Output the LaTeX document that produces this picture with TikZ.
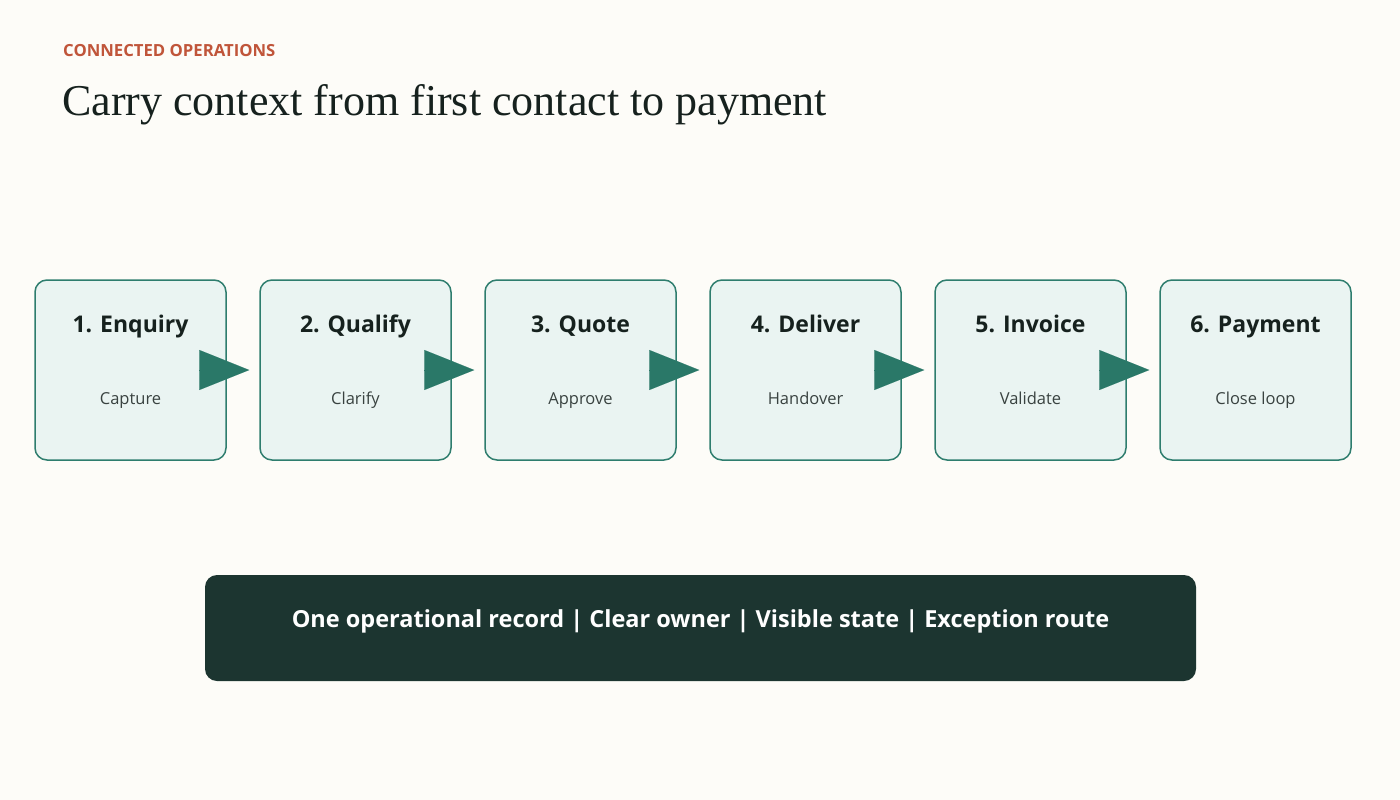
\documentclass[tikz,border=0pt]{standalone}
\usepackage{fontspec}
\setmainfont{Liberation Serif}
\setsansfont{Open Sans}
\usetikzlibrary{arrows.meta}
\definecolor{paper}{HTML}{FDFCF8}
\definecolor{kicker}{HTML}{C0553A}
\definecolor{ink}{HTML}{16211E}
\definecolor{stepfill}{HTML}{EAF4F2}
\definecolor{stepline}{HTML}{2E7D6E}
\definecolor{flowcol}{HTML}{2A7868}
\definecolor{bar}{HTML}{1C3530}
\tikzset{
  stagebox/.style={draw=stepline, line width=1.5pt, fill=stepfill, rounded corners=12pt,
    minimum width=191pt, minimum height=180pt},
  stagename/.style={anchor=base, font=\sffamily\bfseries\fontsize{23}{28}\selectfont, text=ink},
  stagesub/.style={anchor=base, font=\sffamily\fontsize{16.5}{20}\selectfont, text=ink!85},
  flow/.style={-{Triangle[length=50pt,width=40pt]}, draw=flowcol, fill=flowcol, line width=0.1pt},
}
\begin{document}
\begin{tikzpicture}[x=1pt,y=-1pt]
\fill[paper] (0,0) rectangle (1400,800);
\useasboundingbox (0,0) rectangle (1400,800);
% heading
\node[anchor=base west, inner sep=0, text=kicker, font=\sffamily\bfseries\fontsize{16.7}{20}\selectfont] (kick) at (63,57) {CONNECTED OPERATIONS};
\node[anchor=base west, inner sep=0, text=ink, font=\fontsize{44}{52}\selectfont] (title) at (62,115) {Carry context from first contact to payment};
% stages
\foreach \i/\name/\sub in {1/Enquiry/Capture, 2/Qualify/Clarify, 3/Quote/Approve,
  4/Deliver/Handover, 5/Invoice/Validate, 6/Payment/Close loop}{
  \node[stagebox] (b\i) at ({130.5+225*(\i-1)},370) {};
  \node[stagename] (n\i) at ([yshift=38pt]b\i.center) {\i. \name};
  \node[stagesub] (s\i) at ([yshift=-34pt]b\i.center) {\sub};
}
\foreach \i [evaluate=\i as \j using int(\i+1)] in {1,...,5}
  \draw[flow] (b\i.east) -- ([xshift=-10pt]b\j.west);
% summary bar
\node[fill=bar, rounded corners=12pt, minimum width=991pt, minimum height=106pt] (sum) at (700.5,628) {};
\node[anchor=base, text=white, font=\sffamily\bfseries\fontsize{23.5}{28}\selectfont] (sumtext) at ([yshift=1pt]sum.center)
  {One operational record | Clear owner | Visible state | Exception route};
\end{tikzpicture}
\end{document}
